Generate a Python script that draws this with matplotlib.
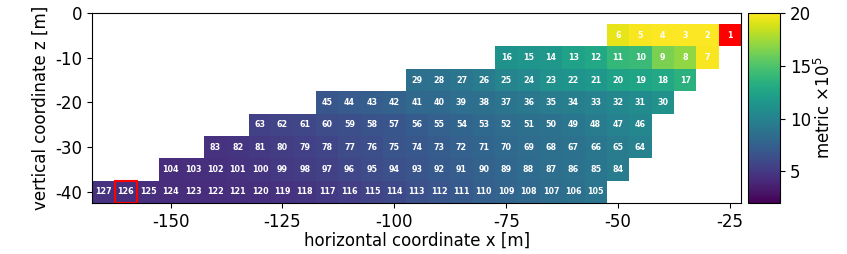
import matplotlib
matplotlib.use("Agg")
import matplotlib.pyplot as plt
import matplotlib.patches as mpatches
import numpy as np

plt.rcParams["axes.unicode_minus"] = False

# each row of cells: depth z, x of its first (right-most) cell, metric values (x1e5)
row_z = [-5, -10, -15, -20, -25, -30, -35, -40]
row_x0 = [-25, -30, -35, -40, -45, -45, -50, -55]
row_vals = [
    [99.0, 19.9, 19.9, 19.9, 19.8, 19.3],
    [19.8, 17.0, 16.4, 14.2, 14.0, 12.8, 12.4, 11.5, 11.4, 11.2],
    [13.5, 12.8, 12.5, 12.2, 11.6, 11.3, 11.0, 10.5, 10.1, 9.5, 9.0, 8.7, 8.6],
    [11.0, 10.6, 10.3, 10.0, 9.7, 9.4, 9.2, 8.9, 8.6, 8.4, 8.1, 8.0, 7.6, 7.3, 7.1, 6.8],
    [10.3, 9.9, 9.5, 9.1, 8.8, 8.6, 8.3, 8.1, 7.8, 7.5, 7.2, 6.8, 6.6, 6.3, 6.1, 5.8, 5.6, 5.4],
    [10.0, 9.5, 9.1, 8.8, 8.6, 8.3, 8.1, 7.8, 7.5, 7.2, 6.9, 6.7, 6.3, 6.1, 5.7, 5.4, 5.2, 5.0, 4.8, 4.6],
    [9.5, 9.1, 8.8, 8.5, 8.2, 7.9, 7.6, 7.3, 7.0, 6.7, 6.4, 6.1, 5.8, 5.5, 5.2, 5.0, 4.8, 4.6, 4.5, 4.4, 4.3],
    [9.0, 8.6, 8.3, 8.0, 7.7, 7.4, 7.0, 6.7, 6.4, 6.0, 5.6, 5.3, 5.0, 4.8, 4.6, 4.5, 4.4, 4.3, 4.3, 4.3, 4.4, 4.5, 4.6],
]
highlight_id = 126
cell = 5.0

xs, zs, vals, ids = [], [], [], []
n = 1
for z, x0, v in zip(row_z, row_x0, row_vals):
    for k, val in enumerate(v):
        xs.append(x0 - k * cell)
        zs.append(z)
        vals.append(val)
        ids.append(n)
        n += 1
xs = np.array(xs)
zs = np.array(zs)
vals = np.array(vals)

xc = np.arange(xs.min(), xs.max() + cell, cell)
zc = np.arange(zs.min(), zs.max() + cell, cell)
grid = np.full((len(zc), len(xc)), np.nan)
for x, z, val in zip(xs, zs, vals):
    grid[int(round((z - zc[0]) / cell)), int(round((x - xc[0]) / cell))] = val

cmap = plt.get_cmap("viridis").copy()
cmap.set_over("red")
cmap.set_bad("white")

fig = plt.figure(figsize=(8.47, 2.54), dpi=100)
ax = fig.add_axes([0.109, 0.201, 0.766, 0.748])
cax = fig.add_axes([0.883, 0.201, 0.038, 0.748])

xe = np.append(xc - cell / 2, xc[-1] + cell / 2)
ze = np.append(zc - cell / 2, zc[-1] + cell / 2)
mesh = ax.pcolormesh(xe, ze, np.ma.masked_invalid(grid), cmap=cmap, vmin=2, vmax=20)

for x, z, i in zip(xs, zs, ids):
    ax.text(x, z, str(i), ha="center", va="center", color="white",
            fontsize=5.8, fontweight="bold")
    if i == highlight_id:
        ax.add_patch(mpatches.Rectangle((x - cell / 2, z - cell / 2), cell, cell,
                                        fill=False, edgecolor="red", lw=1.5))

ax.set_xlim(xe[0], xe[-1])
ax.set_ylim(ze[0], 0)
ax.set_xticks([-150, -125, -100, -75, -50, -25])
ax.set_yticks([0, -10, -20, -30, -40])
ax.tick_params(labelsize=12)
ax.set_xlabel("horizontal coordinate x [m]", fontsize=12, labelpad=1)
ax.set_ylabel("vertical coordinate z [m]", fontsize=12)

cb = fig.colorbar(mesh, cax=cax)
cb.set_ticks([5, 10, 15, 20])
cb.ax.tick_params(labelsize=12)
cb.set_label(r"metric $\times10^5$", fontsize=12, labelpad=2)

fig.savefig("out.png", dpi=100)
